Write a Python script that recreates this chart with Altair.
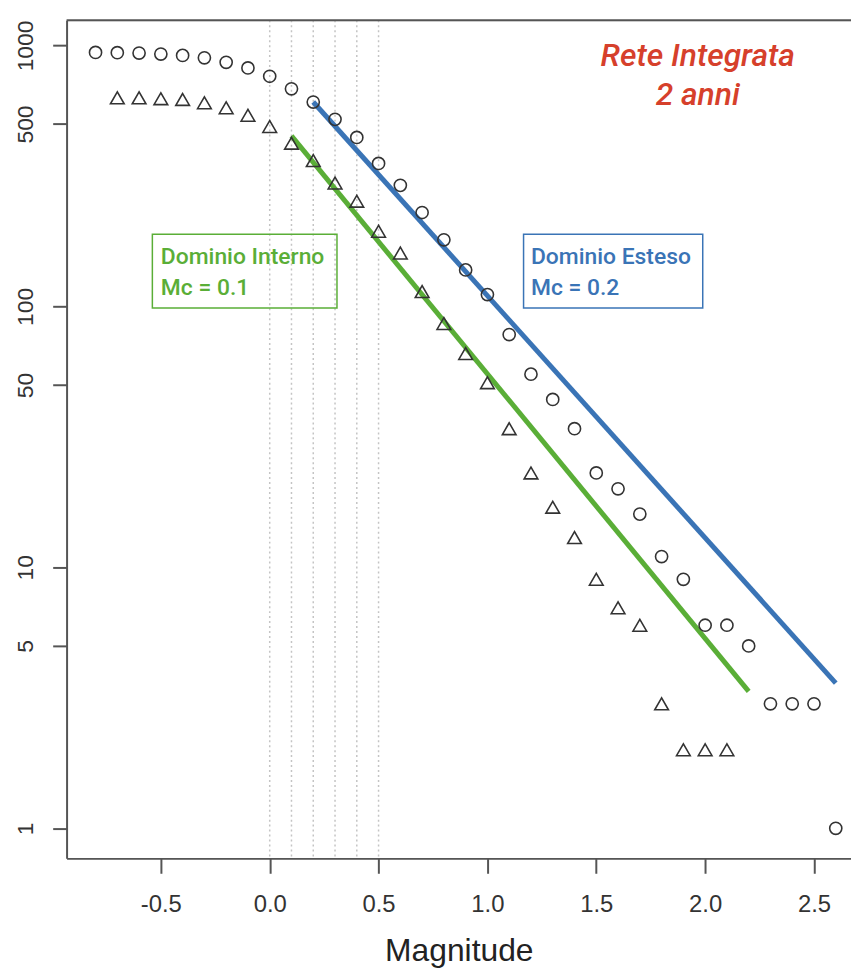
import altair as alt
import pandas as pd

# ---- data ----
mag_circles = [round(-0.8 + 0.1 * i, 1) for i in range(35)]
n_circles = [940, 938, 935, 927, 916, 897, 862, 820, 762, 682, 607, 521, 444, 353,
             291, 229, 180, 138, 111, 78, 55, 44, 34, 23, 20, 16, 11, 9, 6, 6, 5,
             3, 3, 3, 1]
mag_tri = [round(-0.7 + 0.1 * i, 1) for i in range(29)]
n_tri = [630, 630, 625, 621, 603, 577, 540, 489, 422, 362, 297, 253, 194, 160,
         114, 86, 66, 51, 34, 23, 17, 13, 9, 7, 6, 3, 2, 2, 2]

fit_esteso_x = [0.2, 2.6]
fit_esteso_y = [607, 3.6]
fit_interno_x = [0.1, 2.2]
fit_interno_y = [450, 3.35]

mc_lines = [0.0, 0.1, 0.2, 0.3, 0.4, 0.5]

y_ticks = [1, 5, 10, 50, 100, 500, 1000]
x_ticks = [-0.5, 0.0, 0.5, 1.0, 1.5, 2.0, 2.5]

boxes = pd.DataFrame({
    "m": [-0.539, 1.166], "m2": [0.309, 1.989],
    "n": [189, 189], "n2": [98.6, 98.6],
    "c": ["#5aae37", "#3a74b6"],
})
box_text = pd.DataFrame({
    "m": [-0.50, -0.50, 1.20, 1.20],
    "n": [155, 117.5, 155, 117.5],
    "t": ["Dominio Interno", "Mc = 0.1", "Dominio Esteso", "Mc = 0.2"],
    "c": ["#5aae37", "#5aae37", "#3a74b6", "#3a74b6"],
})
title_text = pd.DataFrame({"m": [1.966, 1.966], "n": [910, 647],
                           "t": ["Rete Integrata", "2 anni"]})

W, H = 790, 844
xs = alt.Scale(domain=[-0.933, 2.67], nice=False, zero=False)
ys = alt.Scale(type="log", domain=[0.767, 1248], nice=False)

circ = pd.DataFrame({"m": mag_circles, "n": n_circles})
tri = pd.DataFrame({"m": mag_tri, "n": n_tri})
fe = pd.DataFrame({"m": fit_esteso_x, "n": fit_esteso_y})
fi = pd.DataFrame({"m": fit_interno_x, "n": fit_interno_y})
mcd = pd.DataFrame({"m": mc_lines})

xaxis = alt.Axis(values=x_ticks, title="Magnitude", grid=False,
                 labelExpr="replace(format(datum.value, '.1f'), '\u2212', '-')",
                 tickSize=15, tickWidth=2, tickColor="#555", domainColor="#555",
                 domainWidth=2, labelFontSize=24, labelFont="Liberation Sans",
                 labelColor="#333", labelPadding=20, titleFontSize=32,
                 titleFont="Liberation Sans", titleFontWeight="normal",
                 titleColor="#222", titleBaseline="alphabetic", titleY=103,
                 labelFlush=False)
yaxis = alt.Axis(values=y_ticks, format="d", title=None, grid=False,
                 tickSize=14, tickWidth=2, tickColor="#555", domainColor="#555",
                 domainWidth=2, labelFontSize=23, labelFont="Liberation Sans",
                 labelColor="#333", labelAngle=270, labelAlign="center",
                 labelBaseline="alphabetic", labelPadding=20, labelFlush=False)

X = alt.X("m:Q", scale=xs, axis=xaxis)
Y = alt.Y("n:Q", scale=ys, axis=yaxis)

vlines = alt.Chart(mcd).mark_rule(color="#c4c4c4", strokeWidth=1.5,
                                  strokeDash=[2, 3]).encode(x=X)

top = alt.Chart(mcd.head(1)).mark_rule(color="#555", strokeWidth=2).encode(
    x=alt.value(0), x2=alt.value(W), y=alt.value(0))

pts_c = alt.Chart(circ).mark_point(shape="circle", size=150, filled=False,
                                   color="#333", strokeWidth=1.6, opacity=1).encode(x=X, y=Y)
pts_t = alt.Chart(tri).mark_point(shape="triangle-up", size=190, filled=False,
                                  color="#333", strokeWidth=1.6, opacity=1).encode(x=X, y=Y)

line_e = alt.Chart(fe).mark_line(color="#3a74b6", strokeWidth=5).encode(x=X, y=Y)
line_i = alt.Chart(fi).mark_line(color="#5aae37", strokeWidth=5).encode(x=X, y=Y)

rects = alt.Chart(boxes).mark_rect(fillOpacity=0, strokeWidth=1.5).encode(
    x=X, x2="m2:Q", y=Y, y2="n2:Q",
    stroke=alt.Stroke("c:N", scale=None))
btxt = alt.Chart(box_text).mark_text(align="left", baseline="middle", font="Roboto",
                                     fontSize=23, fontWeight=500).encode(
    x=X, y=Y, text="t:N", color=alt.Color("c:N", scale=None))
ttxt = alt.Chart(title_text).mark_text(align="center", baseline="middle", font="Roboto",
                                       fontSize=32, fontWeight=500, fontStyle="italic",
                                       color="#d6402b").encode(x=X, y=Y, text="t:N")

chart = alt.layer(vlines, top, line_e, line_i, pts_c, pts_t, rects, btxt, ttxt).properties(
    width=W, height=H,
    autosize=alt.AutoSizeParams(type="none"),
    padding={"left": 59, "top": 9, "right": 0, "bottom": 110},
).configure_view(stroke=None).configure(background="white")

chart.save("out.html", embed_options={"renderer": "svg", "actions": False})
